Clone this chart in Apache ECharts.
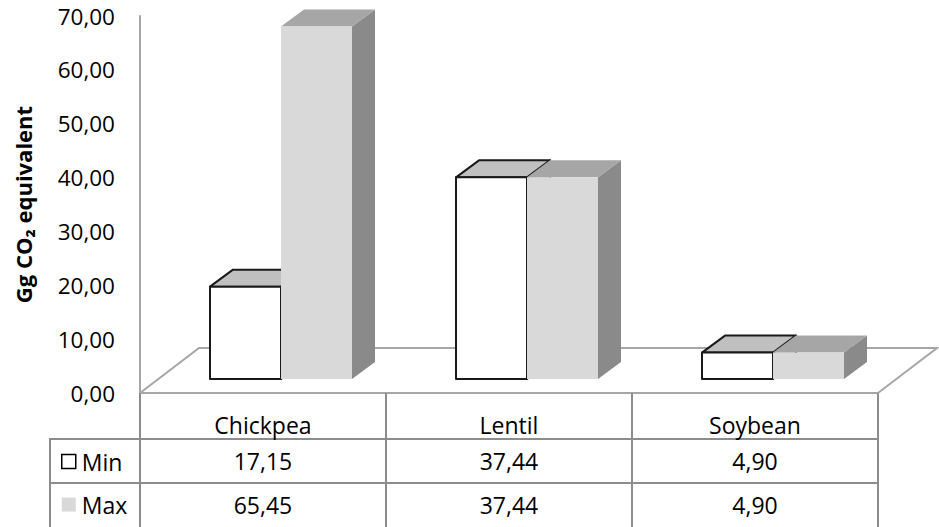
<!DOCTYPE html>
<html>
<head>
<meta charset="utf-8">
<script src="https://cdn.jsdelivr.net/npm/echarts@6/dist/echarts.min.js"></script>
<style>
html, body { margin: 0; padding: 0; background: #fff; }
#chart { width: 939px; height: 527px; }
</style>
</head>
<body>
<div id="chart"></div>
<script>
const categories = ['Chickpea', 'Lentil', 'Soybean'];
const minValues = [17.15, 37.44, 4.90];
const maxValues = [65.45, 37.44, 4.90];
const yMin = 0, yMax = 70, yStep = 10;

const FONT = '"Open Sans", "Noto Sans", sans-serif';
const comma = v => Number(v).toFixed(2).replace('.', ',');

// fake 3d: bars stand halfway back on the floor
const BAR_W = 71;
const SHIFT_X = 18, SHIFT_Y = -14;
const DEPTH_X = 23, DEPTH_Y = -17;
const FLOOR_X = 59, FLOOR_Y = -45;
const LINE = '#8c8c8c';

const chart = echarts.init(document.getElementById('chart'), null, { renderer: 'svg' });

function boxRenderer(side) {
  const c = side === 0
    ? { front: '#ffffff', top: '#c0c0c0', side: '#c0c0c0', stroke: '#1a1a1a', lw: 2 }
    : { front: '#d9d9d9', top: '#a6a6a6', side: '#8a8a8a', stroke: null, lw: 0 };
  return function (params, api) {
    const i = api.value(0);
    const base = api.coord([i, 0]);
    const top = api.coord([i, api.value(1)]);
    const x0 = base[0] + SHIFT_X - (side === 0 ? BAR_W : 0);
    const x1 = x0 + BAR_W;
    const yb = base[1] + SHIFT_Y;
    const yt = top[1] + SHIFT_Y;
    const st = fill => ({ fill: fill, stroke: c.stroke, lineWidth: c.lw, lineJoin: 'round' });
    return {
      type: 'group',
      children: [
        { type: 'polygon', shape: { points: [[x1, yt], [x1 + DEPTH_X, yt + DEPTH_Y], [x1 + DEPTH_X, yb + DEPTH_Y], [x1, yb]] }, style: st(c.side) },
        { type: 'polygon', shape: { points: [[x0, yt], [x1, yt], [x1 + DEPTH_X, yt + DEPTH_Y], [x0 + DEPTH_X, yt + DEPTH_Y]] }, style: st(c.top) },
        { type: 'rect', shape: { x: x0, y: yt, width: BAR_W, height: yb - yt }, style: st(c.front) }
      ]
    };
  };
}

chart.setOption({
  animation: false,
  backgroundColor: '#fff',
  grid: { left: 140, right: 61, top: 16, bottom: 134, containLabel: false },
  legend: {
    orient: 'vertical', left: 56, top: 445,
    itemWidth: 14, itemHeight: 14, itemGap: 20,
    selectedMode: false,
    textStyle: { fontSize: 23, fontFamily: FONT, color: '#000', padding: [0, 0, 0, 1] },
    data: [
      { name: 'Min', icon: 'rect', itemStyle: { color: '#fff', borderColor: '#000', borderWidth: 1.5 } },
      { name: 'Max', icon: 'rect', itemStyle: { color: '#d9d9d9', borderWidth: 0 } }
    ]
  },
  xAxis: {
    type: 'category',
    data: categories,
    axisLine: { show: true, lineStyle: { color: '#a6a6a6', width: 2 } },
    axisTick: { show: true, length: 134, lineStyle: { color: LINE, width: 2 } },
    axisLabel: { fontSize: 23, fontFamily: FONT, color: '#000', margin: 20 },
    splitLine: { show: false }
  },
  yAxis: {
    type: 'value', min: yMin, max: yMax, interval: yStep,
    axisLine: { show: true, lineStyle: { color: '#a6a6a6', width: 2 } },
    axisTick: { show: false },
    splitLine: { show: false },
    axisLabel: { formatter: comma, fontSize: 22.5, fontFamily: FONT, color: '#000', margin: 25 },
    name: 'Gg CO₂ equivalent',
    nameLocation: 'middle', nameRotate: 90, nameGap: 106,
    nameTextStyle: { fontSize: 22, fontWeight: 'bold', fontFamily: FONT, color: '#000' }
  },
  graphic: [
    { type: 'line', shape: { x1: 50, y1: 439, x2: 878, y2: 439 }, style: { stroke: LINE, lineWidth: 2 }, silent: true },
    { type: 'line', shape: { x1: 50, y1: 483, x2: 878, y2: 483 }, style: { stroke: LINE, lineWidth: 2 }, silent: true },
    { type: 'line', shape: { x1: 50, y1: 438, x2: 50, y2: 527 }, style: { stroke: LINE, lineWidth: 2 }, silent: true }
  ],
  series: [
    {
      name: 'floor', type: 'custom', silent: true, z: 1,
      data: [[0, 0]],
      renderItem: function (params, api) {
        const cs = params.coordSys;
        const xl = cs.x, xr = cs.x + cs.width, yf = cs.y + cs.height;
        return {
          type: 'polyline',
          shape: { points: [[xl, yf], [xl + FLOOR_X, yf + FLOOR_Y], [xr + FLOOR_X, yf + FLOOR_Y], [xr, yf]] },
          style: { stroke: '#a6a6a6', lineWidth: 2, fill: null }
        };
      }
    },
    {
      name: 'Min', type: 'custom', z: 2,
      itemStyle: { color: '#fff', borderColor: '#000' },
      data: minValues.map((v, i) => [i, v]),
      renderItem: boxRenderer(0)
    },
    {
      name: 'Max', type: 'custom', z: 2,
      itemStyle: { color: '#d9d9d9' },
      data: maxValues.map((v, i) => [i, v]),
      renderItem: boxRenderer(1)
    },
    {
      name: 'table', type: 'custom', silent: true, z: 3,
      data: categories.map((c, i) => [i, minValues[i], maxValues[i]]),
      renderItem: function (params, api) {
        const cs = params.coordSys;
        const x = api.coord([api.value(0), 0])[0];
        const yf = cs.y + cs.height;
        const txt = (v, y) => ({
          type: 'text',
          style: { text: comma(v), x: x, y: y, align: 'center', verticalAlign: 'middle', fontSize: 23, fontFamily: FONT, fill: '#000' }
        });
        return { type: 'group', children: [txt(api.value(1), yf + 68), txt(api.value(2), yf + 112)] };
      }
    }
  ]
});
</script>
</body>
</html>
